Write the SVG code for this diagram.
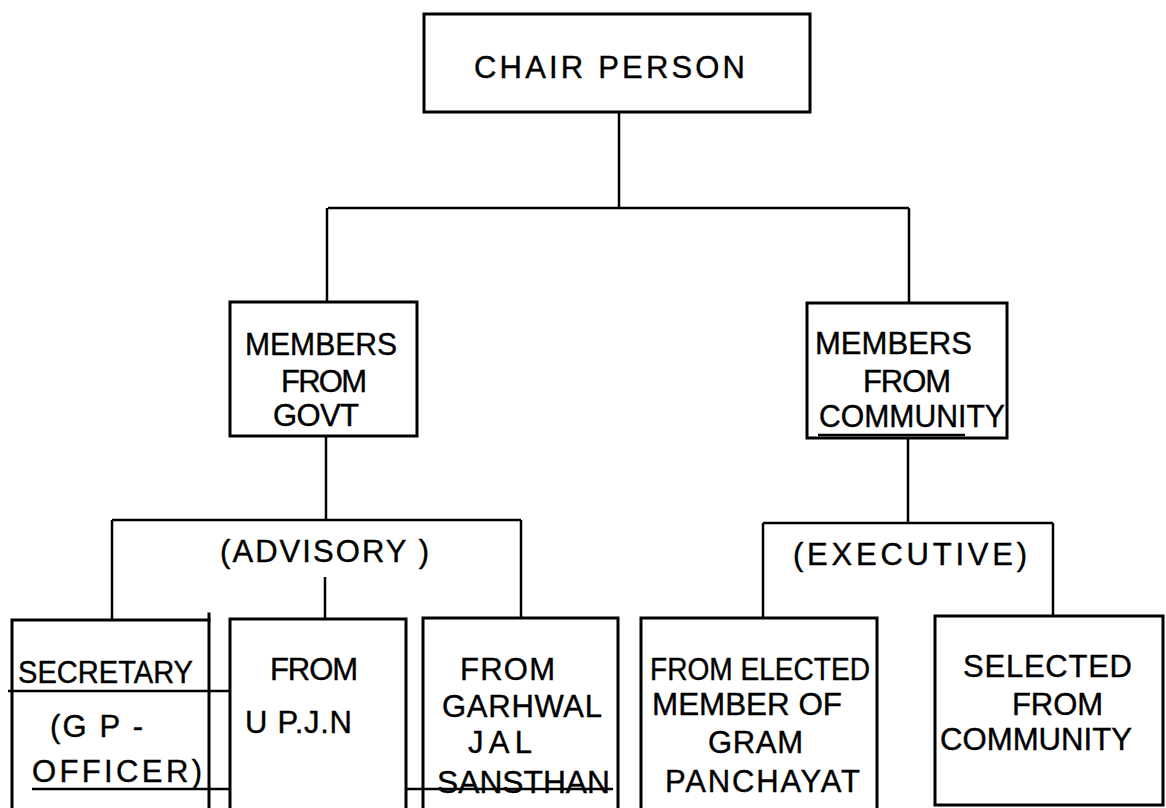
<svg xmlns="http://www.w3.org/2000/svg" width="1166" height="808" viewBox="0 0 1166 808">
<style>
.bx{fill:none;stroke:#000;stroke-width:3;stroke-linecap:square}
.ln{fill:none;stroke:#000;stroke-width:2.5}
.t{font-family:"Liberation Sans",Arial,sans-serif;font-size:31px;fill:#000;stroke:#000;stroke-width:0.4}
</style>
<rect width="1166" height="808" fill="#fff"/>
<g id="connectors">
<line class="ln" x1="619" y1="112" x2="619" y2="208"/>
<line class="ln" x1="328" y1="208" x2="909" y2="208"/>
<line class="ln" x1="327" y1="208" x2="327" y2="302"/>
<line class="ln" x1="909" y1="208" x2="909" y2="303"/>
<line class="ln" x1="326" y1="436" x2="326" y2="520"/>
<line class="ln" x1="112" y1="520" x2="521" y2="520"/>
<line class="ln" x1="112" y1="520" x2="112" y2="620"/>
<line class="ln" x1="325" y1="577" x2="325" y2="619"/>
<line class="ln" x1="521" y1="520" x2="521" y2="618"/>
<line class="ln" x1="908" y1="438" x2="908" y2="523"/>
<line class="ln" x1="763" y1="523" x2="1053" y2="523"/>
<line class="ln" x1="763" y1="523" x2="763" y2="618"/>
<line class="ln" x1="1053" y1="523" x2="1053" y2="616"/>
</g>
<g id="chair">
<rect class="bx" x="424" y="14" width="386" height="98"/>
<text class="t" x="474" y="78" textLength="271" lengthAdjust="spacing">CHAIR PERSON</text>
</g>
<g id="govt">
<rect class="bx" x="230" y="302" width="187" height="134"/>
<text class="t" x="245" y="355" textLength="152" lengthAdjust="spacingAndGlyphs">MEMBERS</text>
<text class="t" x="281" y="392" textLength="86" lengthAdjust="spacing">FROM</text>
<text class="t" x="273" y="426" textLength="86" lengthAdjust="spacing">GOVT</text>
</g>
<g id="community">
<rect class="bx" x="807" y="303" width="200" height="135"/>
<text class="t" x="815" y="354" textLength="157" lengthAdjust="spacingAndGlyphs">MEMBERS</text>
<text class="t" x="863" y="392" textLength="88" lengthAdjust="spacing">FROM</text>
<text class="t" x="819" y="427" textLength="186" lengthAdjust="spacingAndGlyphs">COMMUNITY</text>
<line class="ln" x1="818" y1="435" x2="965" y2="435" stroke-width="2"/>
</g>
<g id="advisory">
<text class="t" x="220" y="562" textLength="209" lengthAdjust="spacing">(ADVISORY )</text>
</g>
<g id="executive">
<text class="t" x="793" y="565" textLength="234" lengthAdjust="spacing">(EXECUTIVE)</text>
</g>
<g id="secretary">
<path class="bx" d="M12,808 V620 H209"/>
<line class="bx" x1="209" y1="614" x2="209" y2="808"/>
<line class="ln" x1="8" y1="691" x2="230" y2="691"/>
<line class="ln" x1="32" y1="789" x2="230" y2="789"/>
<text class="t" x="18" y="683" textLength="175" lengthAdjust="spacingAndGlyphs">SECRETARY</text>
<text class="t" x="50" y="737" textLength="93" lengthAdjust="spacing">(G P -</text>
<text class="t" x="32" y="782" textLength="170" lengthAdjust="spacing">OFFICER)</text>
</g>
<g id="upjn">
<path class="bx" d="M230,808 V619 H406 V808"/>
<text class="t" x="270" y="680" textLength="88" lengthAdjust="spacing">FROM</text>
<text class="t" x="245" y="733" textLength="107" lengthAdjust="spacing">U P.J.N</text>
</g>
<g id="garhwal">
<path class="bx" d="M423,808 V618 H618 V808"/>
<line class="ln" x1="406" y1="789" x2="613" y2="789"/>
<text class="t" x="460" y="680" textLength="95" lengthAdjust="spacing">FROM</text>
<text class="t" x="442" y="717" textLength="160" lengthAdjust="spacing">GARHWAL</text>
<text class="t" x="468" y="753" textLength="64" lengthAdjust="spacing">JAL</text>
<text class="t" x="437" y="793" textLength="173" lengthAdjust="spacingAndGlyphs">SANSTHAN</text>
</g>
<g id="panchayat">
<path class="bx" d="M641,808 V618 H877 V808"/>
<text class="t" x="650" y="680" textLength="220" lengthAdjust="spacingAndGlyphs">FROM ELECTED</text>
<text class="t" x="652" y="715" textLength="190" lengthAdjust="spacingAndGlyphs">MEMBER OF</text>
<text class="t" x="708" y="753" textLength="95" lengthAdjust="spacing">GRAM</text>
<text class="t" x="665" y="792" textLength="195" lengthAdjust="spacing">PANCHAYAT</text>
</g>
<g id="selected">
<path class="bx" d="M935,616 H1163 V805 H935 Z"/>
<text class="t" x="963" y="677" textLength="169" lengthAdjust="spacing">SELECTED</text>
<text class="t" x="1012" y="715" textLength="91" lengthAdjust="spacing">FROM</text>
<text class="t" x="940" y="750" textLength="192" lengthAdjust="spacingAndGlyphs">COMMUNITY</text>
</g>
</svg>
